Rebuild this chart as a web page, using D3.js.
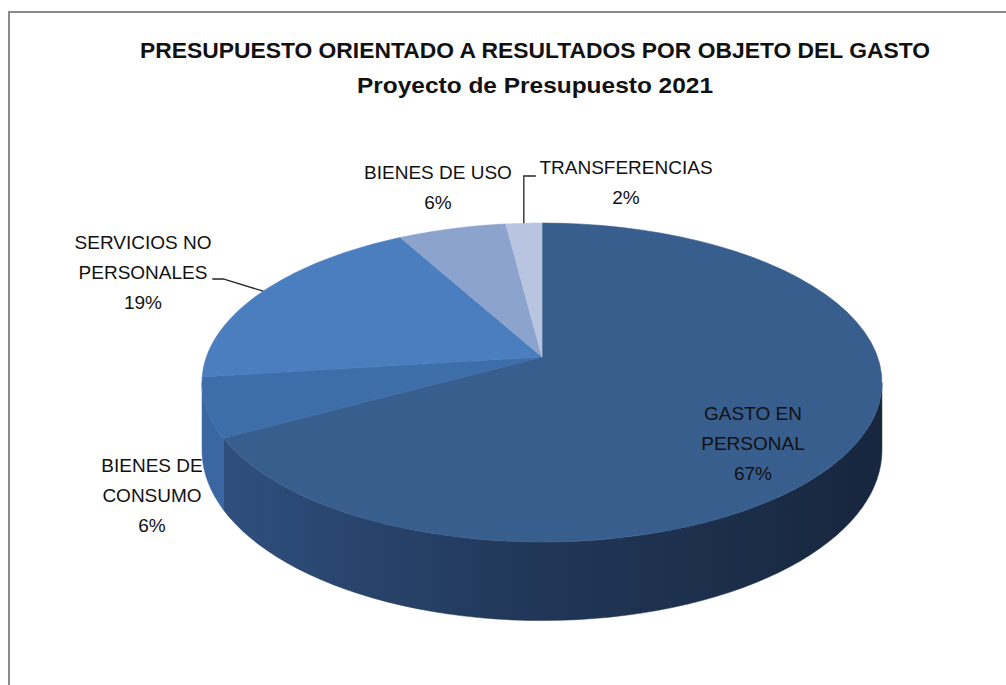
<!DOCTYPE html>
<html>
<head>
<meta charset="utf-8">
<script src="https://cdn.jsdelivr.net/npm/d3@7"></script>
<style>
  body { margin: 0; background: #fff; }
  text { font-family: "Liberation Sans", Arial, sans-serif; fill: #111; }
</style>
</head>
<body>
<main></main>
<script>
// data
const categories = ["GASTO EN PERSONAL", "BIENES DE CONSUMO", "SERVICIOS NO PERSONALES", "BIENES DE USO", "TRANSFERENCIAS"];
const labelLines = [["GASTO EN", "PERSONAL"], ["BIENES DE", "CONSUMO"], ["SERVICIOS NO", "PERSONALES"], ["BIENES DE USO"], ["TRANSFERENCIAS"]];
const values = [67, 6, 19, 6, 2];
const topColors = ["#385e8e", "#3e6eaa", "#4a7ebe", "#8ca3ce", "#b9c5e0"];

const size = { width: 1006, height: 685 };
// 3d pie geometry (screen px)
const pieGeo = { cx: 542, cy: 357, A: 335.6, B: 155.4, k: 0.16, depth: 66 };

// label centres (first line) and leader lines kind
const labelLayout = [
  { x: 753, y: 420, leader: null },
  { x: 152, y: 472, leader: null },
  { x: 143, y: 249, leader: "servicios" },
  { x: 438, y: 179, leader: null },
  { x: 626, y: 174, leader: "transf" }
];

const svg = d3.select('main')
  .append('svg')
  .attr('width', size.width)
  .attr('height', size.height);

// frame
svg.append('rect')
  .attr('x', 9).attr('y', 12)
  .attr('width', 1010).attr('height', 700)
  .attr('fill', 'none')
  .attr('stroke', '#8a8a8a')
  .attr('stroke-width', 2);

// title
const title = svg.append('g').attr('font-weight', 'bold').attr('text-anchor', 'middle');
title.append('text').attr('x', 535).attr('y', 58).attr('font-size', 22)
  .attr('textLength', 790).attr('lengthAdjust', 'spacingAndGlyphs')
  .text("PRESUPUESTO ORIENTADO A RESULTADOS POR OBJETO DEL GASTO");
title.append('text').attr('x', 535).attr('y', 93).attr('font-size', 22)
  .attr('textLength', 356).attr('lengthAdjust', 'spacingAndGlyphs')
  .text("Proyecto de Presupuesto 2021");

// projection of a point of the disk (angle clockwise from 12 o'clock, radius fraction)
const proj = (theta, r = 1, drop = 0) => {
  const s = Math.sin(theta), c = Math.cos(theta);
  const den = 1 + pieGeo.k * r * c;
  return [
    pieGeo.cx + pieGeo.A * r * s / den,
    pieGeo.cy - pieGeo.B * r * c / den + drop / den
  ];
};

const arcs = d3.pie().sort(null).value(d => d)(values);
const sample = (a0, a1) => d3.range(0, 61).map(i => a0 + (a1 - a0) * i / 60);
const line = d3.line();

// side wall visible between the two horizontal extremes of the ellipse
const visFrom = Math.acos(-pieGeo.k);
const visTo = 2 * Math.PI - visFrom;

const defs = svg.append('defs');
const wallGrad = defs.append('linearGradient').attr('id', 'wallGasto')
  .attr('gradientUnits', 'userSpaceOnUse')
  .attr('x1', 210).attr('x2', 885).attr('y1', 0).attr('y2', 0);
wallGrad.append('stop').attr('offset', 0).attr('stop-color', '#2f507f');
wallGrad.append('stop').attr('offset', 0.45).attr('stop-color', '#22385a');
wallGrad.append('stop').attr('offset', 1).attr('stop-color', '#17263d');

const wallFill = ["url(#wallGasto)", "#3a67a2", "#4677b5", "#7f96c2", "#a9b7d6"];

const walls = svg.append('g');
arcs.forEach((a, i) => {
  const a0 = Math.max(a.startAngle, visFrom), a1 = Math.min(a.endAngle, visTo);
  if (a1 <= a0) return;
  const ts = sample(a0, a1);
  const pts = ts.map(t => proj(t)).concat(ts.slice().reverse().map(t => proj(t, 1, pieGeo.depth)));
  walls.append('path')
    .attr('d', line(pts) + 'Z')
    .attr('fill', wallFill[i])
    .attr('stroke', i === 0 ? '#22385a' : wallFill[i])
    .attr('stroke-width', 0.5);
});

const tops = svg.append('g');
tops.selectAll('path')
  .data(arcs)
  .enter()
  .append('path')
  .attr('d', a => line([proj(0, 0)].concat(sample(a.startAngle, a.endAngle).map(t => proj(t)))) + 'Z')
  .attr('fill', (a, i) => topColors[i])
  .attr('stroke', (a, i) => topColors[i])
  .attr('stroke-width', 0.6);

// leader lines
const leaders = svg.append('g').attr('fill', 'none').attr('stroke', '#222').attr('stroke-width', 1.3);
arcs.forEach((a, i) => {
  const lay = labelLayout[i];
  if (!lay.leader) return;
  const mid = (a.startAngle + a.endAngle) / 2;
  const p = proj(mid);
  if (lay.leader === 'transf') {
    leaders.append('path').attr('d', line([p, [p[0], lay.y + 2], [p[0] + 12, lay.y + 2]]));
  } else {
    leaders.append('path').attr('d', line([p, [p[0] - 40, lay.y + 30], [p[0] - 51, lay.y + 30]]));
  }
});

// labels
const labels = svg.append('g').attr('text-anchor', 'middle').attr('font-size', 19);
arcs.forEach((a, i) => {
  const lay = labelLayout[i];
  const lines = labelLines[i].concat([Math.round(a.data) + '%']);
  const t = labels.append('text').attr('x', lay.x).attr('y', lay.y);
  lines.forEach((s, j) => {
    t.append('tspan').attr('x', lay.x).attr('dy', j === 0 ? 0 : 30).text(s);
  });
});
</script>
</body>
</html>
